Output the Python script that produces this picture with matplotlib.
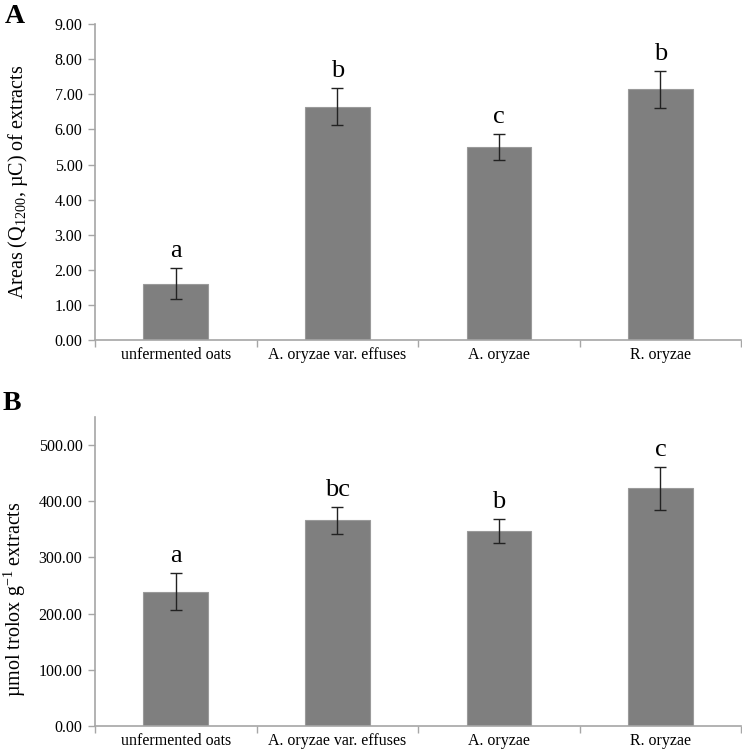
import numpy as np
import matplotlib
matplotlib.use("Agg")
import matplotlib.pyplot as plt

plt.rcParams['font.family'] = ['Liberation Serif', 'DejaVu Serif']
plt.rcParams['mathtext.fontset'] = 'custom'
plt.rcParams['mathtext.rm'] = 'Liberation Serif'
plt.rcParams['mathtext.it'] = 'Liberation Serif:italic'

# data
categories = ["unfermented oats", "A. oryzae var. effuses", "A. oryzae", "R. oryzae"]

areas = [1.61, 6.65, 5.50, 7.14]
areas_sd = [0.45, 0.53, 0.36, 0.53]
areas_letters = ["a", "b", "c", "b"]

trolox = [239.0, 366.0, 347.0, 423.0]
trolox_sd = [33.0, 23.5, 21.0, 38.0]
trolox_letters = ["a", "bc", "b", "c"]

bar_color = "#7f7f7f"
axis_color = "#a6a6a6"

fig = plt.figure(figsize=(7.42, 7.54), dpi=100)
axA = fig.add_axes([0.128, 0.549, 0.871, 0.419])
axB = fig.add_axes([0.128, 0.037, 0.871, 0.410])


def draw_panel(ax, vals, sds, letters, ymax, ticks, ylabel, label_x, label_y):
    x = np.arange(len(categories))
    ax.bar(x, vals, width=0.4, color=bar_color, edgecolor="#9a9a9a", linewidth=0.8, zorder=2)
    ax.errorbar(x, vals, yerr=sds, fmt="none", ecolor="#222222", elinewidth=1.0,
                capsize=4, capthick=1.0, zorder=3)
    for xi, v, s, l in zip(x, vals, sds, letters):
        ax.annotate(l, (xi, v + s), xytext=(0, 8), textcoords="offset points",
                    ha="center", va="baseline", fontsize=19)
    ax.set_xlim(-0.5, len(categories) - 0.5)
    ax.set_ylim(0, ymax)
    ax.set_yticks(ticks)
    ax.set_yticklabels(["{:.2f}".format(t) for t in ticks], fontsize=11.5)
    ax.set_xticks(x)
    ax.set_xticklabels(categories, fontsize=11.5)
    ax.set_xticks(np.arange(-0.5, len(categories), 1.0), minor=True)
    ax.tick_params(axis="x", which="major", length=0, pad=5)
    ax.tick_params(axis="x", which="minor", length=5, color=axis_color, width=1)
    ax.tick_params(axis="y", length=5, color=axis_color, width=1, pad=4)
    for side in ["top", "right"]:
        ax.spines[side].set_visible(False)
    for side in ["left", "bottom"]:
        ax.spines[side].set_color(axis_color)
        ax.spines[side].set_linewidth(1.2)
    ax.set_ylabel(ylabel, fontsize=14.5)
    ax.yaxis.set_label_coords(label_x, label_y)


draw_panel(axA, areas, areas_sd, areas_letters, 9.0, np.arange(0, 9.01, 1.0),
           "Areas (Q$_{1200}$, \u00b5C) of extracts", -0.1, 0.5)
draw_panel(axB, trolox, trolox_sd, trolox_letters, 550.0, np.arange(0, 501, 100),
           "\u00b5mol trolox g$^{-1}$ extracts", -0.104, 0.41)

fig.text(0.006, 0.995, "A", fontsize=20, fontweight="bold", va="top", ha="left")
fig.text(0.004, 0.482, "B", fontsize=20, fontweight="bold", va="top", ha="left")

fig.savefig("out.png", dpi=100)
